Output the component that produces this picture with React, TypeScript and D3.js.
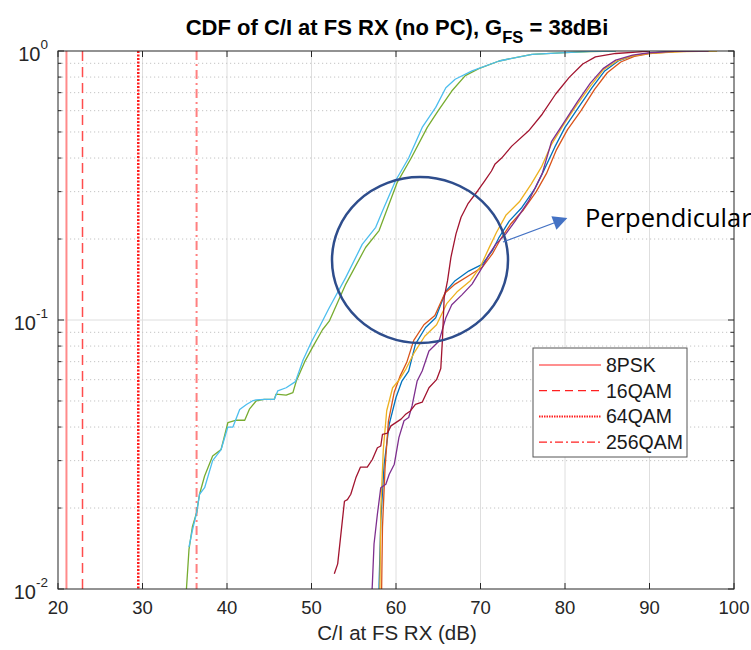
import React, { useEffect } from "react";
import * as d3 from "d3";

// ---- data ----
const xTicks = [20, 30, 40, 50, 60, 70, 80, 90, 100];
const yDecades = [0.01, 0.1, 1];
const yDecadeExp = ["-2", "-1", "0"];

const thresholdNames = ["8PSK", "16QAM", "64QAM", "256QAM"];
const thresholdValues = [21.0, 22.9, 29.5, 36.4];

// series: [C/I dB, CDF]
const greenA: [number, number][] = [
  [35.0, 0.0085], [35.2, 0.0100], [35.5, 0.0140], [35.9, 0.0170], [36.4, 0.0192], [36.75, 0.0225],
  [37.35, 0.0263], [38.3, 0.0312], [39.3, 0.0330], [40.1, 0.0415], [41.1, 0.0424], [42.1, 0.0424],
  [42.65, 0.0466], [43.45, 0.0500], [44.4, 0.0507], [45.6, 0.0507], [45.8, 0.0530], [47.0, 0.0526],
  [47.8, 0.0537], [48.2, 0.0593], [49.2, 0.070], [50.2, 0.080], [51.3, 0.092], [52.1, 0.099],
  [54.06, 0.136], [56.4, 0.186], [58.0, 0.215], [60.15, 0.325], [61.8, 0.40], [63.7, 0.52],
  [65.0, 0.60], [66.6, 0.71], [68.2, 0.81], [69.8, 0.86], [72.2, 0.918], [76.1, 0.972],
  [80.0, 0.986], [83.0, 0.995], [86.0, 1.0],
];
const lightBlueA: [number, number][] = [
  [35.5, 0.0143], [35.9, 0.0165], [36.4, 0.0192], [36.75, 0.0225], [37.35, 0.0238], [38.3, 0.030],
  [39.3, 0.033], [40.1, 0.040], [40.7, 0.040], [41.5, 0.0465], [42.3, 0.0485], [43.0, 0.0500],
  [43.45, 0.0505], [44.4, 0.0507], [45.6, 0.0507], [46.0, 0.0545], [47.0, 0.0560], [48.1, 0.0590],
  [49.0, 0.071], [50.0, 0.083], [51.0, 0.095], [52.1, 0.111], [54.06, 0.144], [56.0, 0.191],
  [57.6, 0.221], [58.4, 0.254], [59.96, 0.33], [61.5, 0.40], [63.1, 0.52], [64.7, 0.617],
  [65.9, 0.73], [67.0, 0.785], [69.0, 0.843], [72.2, 0.918], [76.1, 0.972], [80.0, 0.986],
  [83.0, 0.996], [86.0, 1.0],
];
const darkRed: [number, number][] = [
  [52.7, 0.0114], [53.1, 0.0124], [53.9, 0.0212], [54.25, 0.0215], [54.65, 0.0225], [55.25, 0.0259],
  [55.8, 0.0284], [56.6, 0.0284], [57.2, 0.0303], [57.8, 0.0335], [58.2, 0.0340], [58.4, 0.0376],
  [59.0, 0.0380], [59.4, 0.0404], [60.6, 0.0428], [61.1, 0.0445], [61.7, 0.0459], [62.3, 0.0486],
  [63.1, 0.0495], [63.9, 0.0560], [64.8, 0.060], [65.3, 0.066], [65.5, 0.085], [65.7, 0.121],
  [66.1, 0.140], [66.5, 0.171], [67.1, 0.209], [67.7, 0.241], [68.5, 0.27], [69.7, 0.303],
  [70.5, 0.329], [71.3, 0.358], [71.7, 0.379], [72.5, 0.40], [73.7, 0.443], [75.7, 0.505],
  [77.3, 0.582], [78.9, 0.692], [80.5, 0.798], [82.1, 0.895], [83.6, 0.951], [86.0, 0.979],
  [88.4, 0.991], [90.0, 1.0],
];
const purple: [number, number][] = [
  [57.1, 0.0090], [57.2, 0.0104], [57.4, 0.0147], [57.8, 0.0190], [58.2, 0.0238], [58.8, 0.0245],
  [59.2, 0.0267], [59.8, 0.0291], [60.35, 0.0366], [60.95, 0.0422], [61.5, 0.0434], [61.9, 0.0479],
  [62.5, 0.0593], [63.1, 0.0646], [63.9, 0.0767], [65.1, 0.0836], [65.9, 0.102], [66.6, 0.114],
  [67.8, 0.124], [69.0, 0.136], [70.2, 0.157], [71.0, 0.175], [71.8, 0.191], [73.0, 0.209],
  [74.1, 0.233], [75.7, 0.277], [77.3, 0.35], [78.4, 0.46], [80.0, 0.55], [81.5, 0.65],
  [83.0, 0.76], [84.5, 0.86], [86.0, 0.925], [88.0, 0.965], [90.0, 0.985], [93.0, 0.996], [97.0, 1.0],
];
const blueB: [number, number][] = [
  [58.0, 0.0090], [58.0, 0.0104], [58.2, 0.0179], [58.6, 0.0291], [59.2, 0.0410], [60.0, 0.0515],
  [60.7, 0.0593], [61.5, 0.0646], [62.3, 0.0813], [63.5, 0.0938], [64.7, 0.102], [65.9, 0.128],
  [67.0, 0.140], [68.6, 0.152], [70.2, 0.161], [71.4, 0.181], [72.2, 0.203], [73.4, 0.233],
  [74.9, 0.262], [76.5, 0.31], [77.5, 0.36], [78.8, 0.44], [80.0, 0.52], [81.6, 0.617],
  [83.2, 0.731], [84.7, 0.843], [86.3, 0.918], [87.9, 0.957], [89.8, 0.98], [92.0, 0.995], [95.0, 1.0],
];
const orangeB: [number, number][] = [
  [58.3, 0.0090], [58.3, 0.0100], [58.4, 0.0170], [58.7, 0.0280], [59.1, 0.0420], [59.8, 0.0540],
  [60.5, 0.0620], [61.3, 0.0700], [62.1, 0.0840], [63.3, 0.0960], [64.6, 0.104], [65.8, 0.126],
  [67.0, 0.136], [68.6, 0.146], [70.2, 0.157], [71.4, 0.176], [72.3, 0.198], [73.6, 0.228],
  [75.1, 0.257], [76.6, 0.30], [77.8, 0.35], [79.0, 0.43], [80.3, 0.51], [81.9, 0.60],
  [83.5, 0.72], [85.0, 0.83], [86.6, 0.91], [88.2, 0.955], [90.0, 0.978], [93.0, 0.995], [96.0, 1.0],
];
const yellowB: [number, number][] = [
  [58.1, 0.0090], [58.1, 0.0100], [58.2, 0.0200], [58.5, 0.0330], [58.9, 0.0460], [59.6, 0.0560],
  [60.4, 0.0600], [61.2, 0.0660], [62.2, 0.0760], [63.4, 0.0870], [64.8, 0.0960], [66.0, 0.115],
  [67.2, 0.127], [68.8, 0.140], [70.0, 0.158], [71.0, 0.185], [71.9, 0.212], [73.0, 0.245],
  [74.6, 0.275], [76.0, 0.32], [77.2, 0.37], [78.4, 0.45], [79.8, 0.53], [81.4, 0.63],
  [83.0, 0.74], [84.5, 0.85], [86.2, 0.92], [88.0, 0.96], [90.0, 0.98], [94.0, 0.995], [98.0, 1.0],
];

const seriesList = [
  { data: blueB, color: "#0072bd" },
  { data: orangeB, color: "#d95319" },
  { data: yellowB, color: "#edb120" },
  { data: purple, color: "#7e2f8e" },
  { data: greenA, color: "#77ac30" },
  { data: lightBlueA, color: "#4dbeee" },
  { data: darkRed, color: "#a2142f" },
];

// ---- layout ----
const W = 751;
const H = 650;
const L = 58, R = 734, T = 51, B = 589;

const thrStyles = [
  { color: "#ff8a8a", dash: "", width: 2, legColor: "#ff2020" },
  { color: "#ff4d4d", dash: "10,6", width: 1.5, legColor: "#ff2020" },
  { color: "#ff1a1a", dash: "2,1.5", width: 2.5, legColor: "#ff2020" },
  { color: "#ff8080", dash: "9,4,2,4", width: 2, legColor: "#ff2020" },
];

export default function App() {
  useEffect(() => {
    document.body.style.margin = "0";
  }, []);

  const x = d3.scaleLinear().domain([20, 100]).range([L, R]);
  const y = d3.scaleLog().domain([0.01, 1]).range([B, T]);
  const line = d3
    .line<[number, number]>()
    .x((d) => x(d[0]))
    .y((d) => y(d[1]));

  const minor: number[] = [];
  [0.01, 0.1].forEach((dec) => {
    for (let k = 2; k <= 9; k++) minor.push(dec * k);
  });

  const font = "Arial, 'Liberation Sans', Helvetica, sans-serif";
  const axisColor = "#262626";

  return (
    <svg width={W} height={H} style={{ position: "absolute", left: 0, top: 0, background: "#fff" }} fontFamily={font}>
      <defs>
        <clipPath id="plotclip">
          <rect x={L} y={T} width={R - L} height={B - T} />
        </clipPath>
        <marker id="arrowhead" viewBox="0 0 10 10" refX="9" refY="5" markerWidth="12" markerHeight="11" orient="auto" markerUnits="strokeWidth">
          <path d="M0,0 L10,5 L0,10 z" fill="#4472c4" />
        </marker>
      </defs>
      <rect x={0} y={0} width={W} height={H} fill="#fff" />
      {/* grid */}
      {xTicks.slice(1, -1).map((t) => (
        <line key={"gx" + t} x1={x(t)} x2={x(t)} y1={T} y2={B} stroke="#dedede" strokeWidth={1} />
      ))}
      {minor.map((m, i) => (
        <line key={"gm" + i} x1={L} x2={R} y1={y(m)} y2={y(m)} stroke="#c4c4c4" strokeWidth={1} strokeDasharray="1.2,2.8" />
      ))}
      <line x1={L} x2={R} y1={y(0.1)} y2={y(0.1)} stroke="#dedede" strokeWidth={1} />

      {/* threshold lines and CDF curves */}
      <g clipPath="url(#plotclip)">
        {thresholdValues.map((v, i) => (
          <line
            key={"thr" + i}
            x1={x(v)}
            x2={x(v)}
            y1={T}
            y2={B}
            stroke={thrStyles[i].color}
            strokeWidth={thrStyles[i].width}
            strokeDasharray={thrStyles[i].dash || undefined}
          />
        ))}
        {seriesList.map((s, i) => (
          <path key={"s" + i} d={line(s.data) || ""} fill="none" stroke={s.color} strokeWidth={1.3} strokeLinejoin="round" />
        ))}
      </g>

      {/* axes box */}
      <rect x={L} y={T} width={R - L} height={B - T} fill="none" stroke={axisColor} strokeWidth={1} />
      {xTicks.map((t) => (
        <g key={"xt" + t}>
          <line x1={x(t)} x2={x(t)} y1={B} y2={B - 6} stroke={axisColor} />
          <line x1={x(t)} x2={x(t)} y1={T} y2={T + 6} stroke={axisColor} />
          <text x={x(t)} y={614} textAnchor="middle" fontSize={18.5} fill={axisColor}>
            {t}
          </text>
        </g>
      ))}
      {yDecades.map((d, i) => (
        <g key={"yt" + i}>
          <line x1={L} x2={L + 6} y1={y(d)} y2={y(d)} stroke={axisColor} />
          <line x1={R} x2={R - 6} y1={y(d)} y2={y(d)} stroke={axisColor} />
          <text x={48} y={y(d) + 10} textAnchor="end" fontSize={20} fill={axisColor}>
            10
            <tspan dy={-12} fontSize={13.5}>
              {yDecadeExp[i]}
            </tspan>
          </text>
        </g>
      ))}
      {minor.map((m, i) => (
        <g key={"ym" + i}>
          <line x1={L} x2={L + 3.5} y1={y(m)} y2={y(m)} stroke={axisColor} />
          <line x1={R} x2={R - 3.5} y1={y(m)} y2={y(m)} stroke={axisColor} />
        </g>
      ))}

      {/* title */}
      <text x={397} y={35} textAnchor="middle" fontSize={22} fontWeight="bold" fill="#000">
        CDF of C/I at FS RX (no PC), G
        <tspan dy={8} fontSize={16.5}>FS</tspan>
        <tspan dy={-8}> = 38dBi</tspan>
      </text>
      {/* x label */}
      <text x={397} y={640} textAnchor="middle" fontSize={20.5} fill={axisColor}>
        C/I at FS RX (dB)
      </text>

      {/* legend */}
      <rect x={533} y={348} width={154} height={109} fill="#fff" stroke="#555" strokeWidth={1} />
      {thresholdNames.map((n, i) => {
        const ly = 365 + i * 25.7;
        return (
          <g key={"lg" + i}>
            <line
              x1={539}
              x2={601}
              y1={ly}
              y2={ly}
              stroke={thrStyles[i].legColor}
              strokeWidth={i === 2 ? 2 : 1.2}
              strokeDasharray={i === 0 ? undefined : i === 1 ? "8,5" : i === 2 ? "1.5,1" : "8,3,2,3"}
            />
            <text x={606} y={ly + 7} fontSize={19.5} fill="#1a1a1a">
              {n}
            </text>
          </g>
        );
      })}

      {/* annotation */}
      <ellipse cx={420} cy={260} rx={88} ry={83} fill="none" stroke="#2e4d8c" strokeWidth={2.5} />
      <line x1={503} y1={242} x2={566} y2={218.5} stroke="#4472c4" strokeWidth={1.3} markerEnd="url(#arrowhead)" />
      <text x={585} y={227} fontSize={25.5} fill="#000" fontFamily="'Open Sans', Lato, sans-serif">
        Perpendicular
      </text>
    </svg>
  );
}
